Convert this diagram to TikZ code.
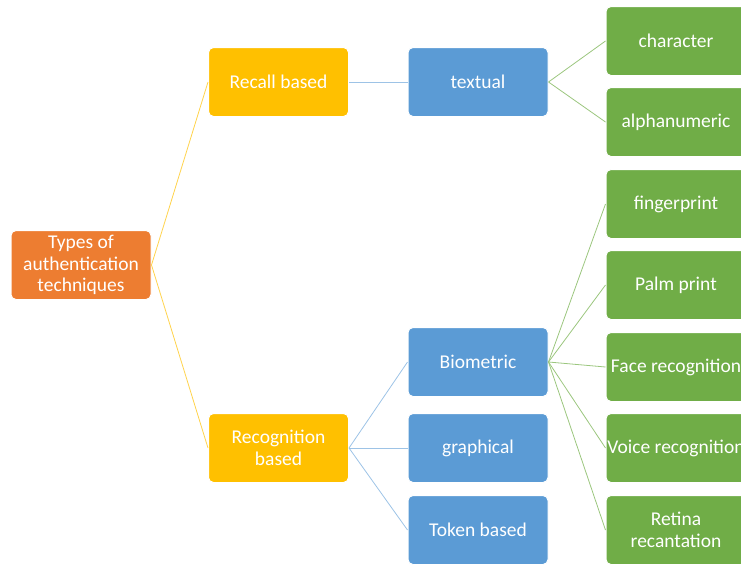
\documentclass[tikz,border=0pt]{standalone}
\usepackage{fontspec}
\setmainfont{Carlito}

\definecolor{rootorange}{HTML}{ED7D31}
\definecolor{levelgold}{HTML}{FFC000}
\definecolor{levelblue}{HTML}{5B9BD5}
\definecolor{levelgreen}{HTML}{70AD47}

\tikzset{
    box/.style={draw=white, line width=1pt, rounded corners=5pt, text=white,
        minimum width=140pt, minimum height=69pt, inner sep=0pt, align=center,
        font=\fontsize{19.5}{21.5}\selectfont},
    goldlink/.style={draw=levelgold!70, line width=0.8pt},
    bluelink/.style={draw=levelblue!60, line width=0.8pt},
    greenlink/.style={draw=levelgreen!70, line width=0.8pt}
}

\begin{document}
\begin{tikzpicture}[x=1pt, y=-1pt]
        \useasboundingbox (0,0) rectangle (741,565);

        % root and first level
        \node[box, fill=rootorange] (types) at (81,265) {Types of\\authentication\\techniques};
        \node[box, fill=levelgold] (recall) at (278.5,82) {Recall based};
        \node[box, fill=levelgold] (recognition) at (278.5,448) {Recognition\\based};

        % second level
        \node[box, fill=levelblue] (textual) at (478,82) {textual};
        \node[box, fill=levelblue] (biometric) at (478,362) {Biometric};
        \node[box, fill=levelblue] (graphical) at (478,448) {graphical};
        \node[box, fill=levelblue] (token) at (478,530) {Token based};

        % third level
        \node[box, fill=levelgreen] (character) at (676,41) {character};
        \node[box, fill=levelgreen] (alnum) at (676,122) {alphanumeric};
        \node[box, fill=levelgreen] (finger) at (676,204) {fingerprint};
        \node[box, fill=levelgreen] (palm) at (676,285) {Palm print};
        \node[box, fill=levelgreen] (face) at (676,367) {Face recognition};
        \node[box, fill=levelgreen] (voice) at (676,448) {Voice recognition};
        \node[box, fill=levelgreen] (retina) at (676,530) {Retina\\recantation};

        % links
        \draw[goldlink] (types.east) -- (recall.west);
        \draw[goldlink] (types.east) -- (recognition.west);

        \draw[bluelink] (recall.east) -- (textual.west);
        \foreach \child in {biometric, graphical, token}
            \draw[bluelink] (recognition.east) -- (\child.west);

        \foreach \child in {character, alnum}
            \draw[greenlink] (textual.east) -- (\child.west);
        \foreach \child in {finger, palm, face, voice, retina}
            \draw[greenlink] (biometric.east) -- (\child.west);
    \end{tikzpicture}
\end{document}
